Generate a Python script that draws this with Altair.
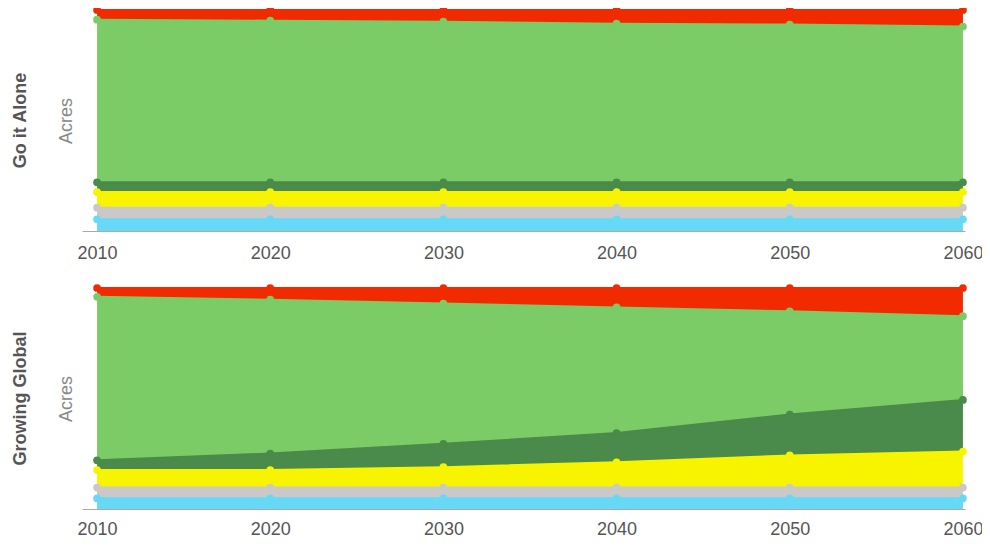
import altair as alt
import pandas as pd

years = [2010, 2020, 2030, 2040, 2050, 2060]
scenarios = ["Go it Alone", "Growing Global"]
series = ["Water", "Other", "Cropland", "Planted forest", "Natural forest", "Developed"]
colors = ["#66d9f7", "#cbc8c8", "#f8f400", "#4a8a4a", "#7bcb66", "#f22a00"]

# million acres, bottom layer first
go_alone = {
    "Water":          [48, 48, 48, 48, 48, 48],
    "Other":          [48, 48, 48, 48, 48, 48],
    "Cropland":       [64, 64, 64, 64, 64, 64],
    "Planted forest": [40, 40, 40, 40, 40, 40],
    "Natural forest": [668, 664, 660, 652, 648, 640],
    "Developed":      [40, 44, 48, 56, 60, 68],
}
growing_global = {
    "Water":          [44, 44, 44, 44, 44, 44],
    "Other":          [44, 44, 44, 44, 44, 44],
    "Cropland":       [72, 72, 84, 104, 132, 148],
    "Planted forest": [40, 68, 96, 120, 168, 212],
    "Natural forest": [672, 632, 576, 516, 424, 344],
    "Developed":      [36, 48, 64, 80, 96, 116],
}

rows = []
for scen, d in zip(scenarios, [go_alone, growing_global]):
    for i, s in enumerate(series):
        for y, v in zip(years, d[s]):
            rows.append({"scenario": scen, "series": s, "order": i, "year": y, "value": v})
df = pd.DataFrame(rows)

FONT = "Liberation Sans"


def panel(scen, label_pad):
    sub = df[df.scenario == scen]
    total = sub[sub.year == years[0]].value.sum()
    base = alt.Chart(sub).transform_stack(
        stack="value", groupby=["year"], as_=["y0", "y1"],
        sort=[alt.SortField("order", order="ascending")],
    )
    x = alt.X(
        "year:Q",
        scale=alt.Scale(domain=[2009.13, 2060.12], nice=False, zero=False),
        axis=alt.Axis(values=years, format="d", title=None, grid=False, ticks=False,
                      labelFontSize=18, labelColor="#555555", labelFont=FONT,
                      labelFlush=False,
                      domainColor="#aaaaaa", labelPadding=label_pad),
    )
    y = alt.Y(
        "y1:Q",
        scale=alt.Scale(domain=[0, int(total)], nice=False),
        axis=alt.Axis(title="Acres", labels=False, ticks=False, domain=False, grid=False,
                      titleFontSize=18, titleColor="#888888", titleFontWeight="normal",
                      titleFont=FONT, titlePadding=7),
    )
    color = alt.Color("series:N", scale=alt.Scale(domain=series, range=colors), legend=None)
    area = base.mark_area(opacity=1).encode(x=x, y=y, y2="y0:Q", color=color)
    line = base.mark_line(strokeWidth=2).encode(x=x, y=y, color=color)
    pts = base.mark_circle(size=60, opacity=1).encode(x=x, y=y, color=color)
    return alt.layer(area, line, pts).properties(
        width=883, height=221,
        title=alt.TitleParams(scen, orient="left", anchor="middle", fontSize=18,
                              fontWeight="bold", color="#555555", font=FONT, offset=27),
    )


chart = alt.vconcat(panel(scenarios[0], 13), panel(scenarios[1], 11), spacing=22).properties(
    padding={"left": 4, "top": -2, "right": -1, "bottom": -1}
).configure_view(stroke=None)

chart.save("out.html", embed_options={"renderer": "svg", "actions": False})
